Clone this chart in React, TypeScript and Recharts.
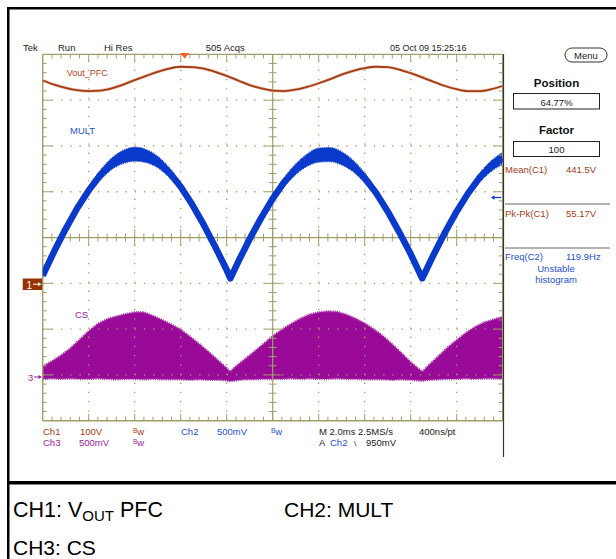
import React from 'react';
import { ComposedChart, Line, Area, XAxis, YAxis, ReferenceLine } from 'recharts';

// ---- data (time in divisions 0..10, amplitude in divisions -4..4) ----
const voutT = [0,0.25,0.5,0.75,1,1.25,1.5,1.75,2,2.25,2.5,2.75,3,3.25,3.5,3.75,4,4.25,4.5,4.75,5,5.25,5.5,5.75,6,6.25,6.5,6.75,7,7.25,7.5,7.75,8,8.25,8.5,8.75,9,9.25,9.5,9.75,10];
const voutV = [3.43,3.34,3.27,3.22,3.20,3.21,3.26,3.34,3.44,3.53,3.62,3.69,3.73,3.72,3.69,3.62,3.53,3.43,3.33,3.26,3.21,3.20,3.23,3.29,3.37,3.46,3.56,3.64,3.70,3.73,3.72,3.67,3.59,3.50,3.40,3.31,3.24,3.20,3.20,3.24,3.31];

const multT = [0,0.25,0.5,0.75,1,1.25,1.5,1.75,2,2.25,2.5,2.75,3,3.25,3.5,3.75,4,4.08,4.25,4.5,4.75,5,5.25,5.5,5.75,6,6.25,6.5,6.75,7,7.25,7.5,7.75,8,8.25,8.5,8.75,9,9.25,9.5,9.75,10];
const multV = [-0.83,-0.30,0.19,0.64,1.03,1.36,1.61,1.76,1.82,1.78,1.65,1.42,1.11,0.72,0.28,-0.20,-0.71,-0.89,-0.53,-0.03,0.43,0.85,1.21,1.49,1.69,1.80,1.81,1.73,1.56,1.30,0.97,0.57,0.12,-0.36,-0.89,-0.37,0.12,0.57,0.97,1.31,1.56,1.73];
// half-thickness of the noisy MULT trace band (divisions)
const multSpread = [0.04,0.04,0.05,0.06,0.08,0.10,0.12,0.14,0.15,0.14,0.12,0.10,0.08,0.06,0.05,0.04,0.04,0.04,0.04,0.04,0.05,0.07,0.09,0.11,0.13,0.15,0.15,0.14,0.12,0.10,0.08,0.06,0.05,0.04,0.04,0.04,0.04,0.05,0.07,0.09,0.11,0.13];

const csT = [0,0.2,0.4,0.6,0.8,1,1.2,1.4,1.6,1.8,2,2.2,2.4,2.6,2.8,3,3.2,3.4,3.6,3.8,4,4.07,4.2,4.4,4.6,4.8,5,5.2,5.4,5.6,5.8,6,6.2,6.4,6.6,6.8,7,7.2,7.4,7.6,7.8,8,8.25,8.4,8.6,8.8,9,9.2,9.4,9.6,9.8,10];
const csTop = [-2.81,-2.70,-2.57,-2.42,-2.23,-2.04,-1.88,-1.78,-1.72,-1.67,-1.63,-1.63,-1.71,-1.80,-1.90,-2.01,-2.16,-2.32,-2.49,-2.67,-2.85,-2.93,-2.81,-2.65,-2.49,-2.32,-2.15,-2.01,-1.88,-1.77,-1.68,-1.63,-1.61,-1.62,-1.68,-1.77,-1.87,-2.00,-2.15,-2.33,-2.52,-2.72,-2.93,-2.78,-2.59,-2.40,-2.24,-2.08,-1.95,-1.85,-1.79,-1.73];
const csBase = [-3.09,-3.08,-3.09,-3.08,-3.09,-3.09,-3.08,-3.09,-3.10,-3.09,-3.09,-3.10,-3.09,-3.10,-3.10,-3.10,-3.11,-3.10,-3.11,-3.11,-3.12,-3.14,-3.12,-3.10,-3.10,-3.09,-3.09,-3.09,-3.08,-3.09,-3.08,-3.09,-3.09,-3.08,-3.09,-3.09,-3.10,-3.10,-3.10,-3.11,-3.10,-3.11,-3.13,-3.11,-3.10,-3.09,-3.09,-3.08,-3.09,-3.08,-3.08,-3.09];

const majorX = [1,2,3,4,6,7,8,9];
const majorY = [-3,-2,-1,1,2,3];
const minorX = Array.from({ length: 49 }, (_, i) => Math.round((i + 1) * 2) / 10);
const minorY = Array.from({ length: 39 }, (_, i) => Math.round((i + 1) * 2 - 40) / 10);

const voutData = voutT.map((t, i) => ({ t, v: voutV[i] }));
const multData = multT.map((t, i) => ({ t, v: multV[i] }));
const multBand = multT.map((t, i) => ({ t, v: [multV[i] - multSpread[i], multV[i] + multSpread[i]] }));
const csData = csT.map((t, i) => ({ t, v: [csBase[i], csTop[i]] }));

const OLIVE = '#a29e68';
const BROWN = '#a33c12';
const BLUE = '#0a3acb';
const PURPLE = '#990a99';
const FONT = '"Liberation Sans", Arial, sans-serif';

const isMajor = (v: number) => Math.abs(v - Math.round(v)) < 1e-6;

function seg(key: string, x1: number, y1: number, x2: number, y2: number) {
  return (
    <ReferenceLine
      key={key}
      segment={[{ x: x1, y: y1 }, { x: x2, y: y2 }]}
      stroke={OLIVE}
      strokeWidth={1}
      ifOverflow="visible"
    />
  );
}

export default function App() {
  const ticks: React.ReactNode[] = [];
  minorX.forEach((x) => {
    const lenB = isMajor(x) ? 0.15 : 0.087;
    const lenC = isMajor(x) ? 0.18 : 0.087;
    ticks.push(seg('tt' + x, x, 4, x, 4 - lenB));
    ticks.push(seg('tb' + x, x, -4, x, -4 + lenB));
    ticks.push(seg('tc' + x, x, -lenC, x, lenC));
  });
  minorY.forEach((y) => {
    const lenB = isMajor(y) ? 0.2 : 0.087;
    const lenC = isMajor(y) ? 0.18 : 0.087;
    ticks.push(seg('tl' + y, 0, y, lenB, y));
    ticks.push(seg('tr' + y, 10, y, 10 - lenB, y));
    ticks.push(seg('tm' + y, 5 - lenC, y, 5 + lenC, y));
  });

  const txt = (x: number, y: number, s: string, color = '#222', size = 9.5, anchor: 'start' | 'middle' | 'end' = 'start', weight = 'normal') => (
    <text x={x} y={y} fill={color} fontSize={size} textAnchor={anchor} fontWeight={weight} fontFamily={FONT}>{s}</text>
  );
  const bw = (x: number, y: number, color: string) => (
    <text x={x} y={y} fill={color} fontSize={9.5} fontFamily={FONT}>
      <tspan fontSize={6.5} dy={-2.5}>B</tspan>
      <tspan dy={2.5}>w</tspan>
    </text>
  );

  return (
    <div style={{ position: 'absolute', left: 0, top: 0, width: 616, height: 559, background: '#fff', overflow: 'hidden' }}>
      <div style={{ position: 'absolute', left: 0, top: 0 }}>
        <ComposedChart width={616} height={559} margin={{ top: 54.4, left: 42.7, right: 113.3, bottom: 138.3 }}>
          <XAxis type="number" dataKey="t" domain={[0, 10]} hide allowDataOverflow />
          <YAxis type="number" domain={[-4, 4]} hide allowDataOverflow />
          {majorX.map((x) => (
            <ReferenceLine key={'gx' + x} x={x} stroke={OLIVE} strokeWidth={1.3} strokeDasharray="1.3 7.9" />
          ))}
          {majorY.map((y) => (
            <ReferenceLine key={'gy' + y} y={y} stroke={OLIVE} strokeWidth={1.3} strokeDasharray="1.3 7.9" />
          ))}
          <ReferenceLine x={0} stroke={OLIVE} strokeWidth={1.4} />
          <ReferenceLine x={10} stroke={OLIVE} strokeWidth={1.4} />
          <ReferenceLine y={4} stroke={OLIVE} strokeWidth={1.4} />
          <ReferenceLine y={-4} stroke={OLIVE} strokeWidth={1.4} />
          <ReferenceLine x={5} stroke={OLIVE} strokeWidth={1.2} />
          <ReferenceLine y={0} stroke={OLIVE} strokeWidth={1.2} />
          {ticks}
          <Area data={csData} dataKey="v" type="linear" fill={PURPLE} fillOpacity={1} stroke="#a52aa5" strokeWidth={2.2} strokeDasharray="1 1.2" isAnimationActive={false} dot={false} activeDot={false} />
          <Line data={voutData} dataKey="v" type="monotone" stroke="#ecc4b4" strokeWidth={3.2} dot={false} activeDot={false} isAnimationActive={false} />
          <Line data={voutData} dataKey="v" type="monotone" stroke={BROWN} strokeWidth={1.8} dot={false} activeDot={false} isAnimationActive={false} />
          <Area data={multBand} dataKey="v" type="monotone" fill={BLUE} fillOpacity={1} stroke={BLUE} strokeWidth={1.5} strokeDasharray="1 1" isAnimationActive={false} dot={false} activeDot={false} />
          <Line data={multData} dataKey="v" type="linear" stroke={BLUE} strokeWidth={6.5} strokeLinejoin="round" dot={false} activeDot={false} isAnimationActive={false} />
        </ComposedChart>
      </div>
      <svg width={616} height={559} style={{ position: 'absolute', left: 0, top: 0, pointerEvents: 'none' }}>
        {/* outer frame */}
        <rect x={7} y={7} width={2.5} height={552} fill="#000" />
        <rect x={7} y={7} width={609} height={2.5} fill="#000" />
        <rect x={7} y={481} width={609} height={3.5} fill="#000" />
        <line x1={503.5} y1={54} x2={503.5} y2={457} stroke="#333" strokeWidth={1.2} />

        {/* top status */}
        {txt(23, 51, 'Tek')}
        {txt(58, 51, 'Run')}
        {txt(104, 51, 'Hi Res')}
        {txt(205.7, 51, '505 Acqs')}
        {txt(390, 51, '05 Oct 09 15:25:16', '#222', 9)}
        <polygon points="180,53 189.5,53 184.7,58.5" fill="#ff5a2a" />

        {/* trace labels */}
        {txt(66.7, 76, 'Vout_PFC', '#b04422', 9)}
        {txt(70, 134, 'MULT', '#1f4fd0', 9.5)}
        {txt(75, 318, 'CS', '#a020a0', 9.5)}

        {/* ground markers */}
        <rect x={22.7} y={278.5} width={19.3} height={11.5} fill="#993300" />
        {txt(26.5, 288.5, '1', '#fff', 10)}
        <line x1={33} y1={284.2} x2={40.5} y2={284.2} stroke="#fff" strokeWidth={1} />
        <polygon points="41.5,284.2 38,282.2 38,286.2" fill="#fff" />
        {txt(28, 380.5, '3', '#a020a0', 9.5)}
        <line x1={34} y1={377} x2={40.5} y2={377} stroke="#a020a0" strokeWidth={1} />
        <polygon points="42,377 38.5,375 38.5,379" fill="#a020a0" />
        <line x1={493} y1={197.5} x2={501} y2={197.5} stroke={BLUE} strokeWidth={1.2} />
        <polygon points="491,197.5 494.5,195.3 494.5,199.7" fill={BLUE} />

        {/* bottom status */}
        {txt(43, 435, 'Ch1', '#a33c12')}
        {txt(80, 435, '100V', '#a33c12')}
        {bw(133, 435, '#a33c12')}
        {txt(181, 435, 'Ch2', '#1f4fd0')}
        {txt(217, 435, '500mV', '#1f4fd0')}
        {bw(271, 435, '#1f4fd0')}
        {txt(319, 435, 'M 2.0ms 2.5MS/s')}
        {txt(419, 435, '400ns/pt')}
        {txt(43, 446, 'Ch3', '#a020a0')}
        {txt(79, 446, '500mV', '#a020a0')}
        {bw(133, 446, '#a020a0')}
        {txt(319, 446, 'A')}
        {txt(330, 446, 'Ch2', '#1f4fd0')}
        {txt(354, 446, '\\', '#222', 8)}
        {txt(366, 446, '950mV')}

        {/* right panel */}
        <rect x={565} y={48} width={42} height={14} rx={7} ry={7} fill="#fff" stroke="#333" strokeWidth={1} />
        {txt(586, 59, 'Menu', '#222', 9.5, 'middle')}
        {txt(556.5, 86.7, 'Position', '#111', 11.5, 'middle', 'bold')}
        <rect x={513.5} y={93.5} width={86} height={15.5} fill="#fff" stroke="#222" strokeWidth={1} />
        {txt(556.5, 105.5, '64.77%', '#222', 9.5, 'middle')}
        {txt(556.5, 134, 'Factor', '#111', 11.5, 'middle', 'bold')}
        <rect x={513.5} y={141.5} width={86} height={15} fill="#fff" stroke="#222" strokeWidth={1} />
        {txt(556.5, 153, '100', '#222', 9.5, 'middle')}
        {txt(505, 173, 'Mean(C1)', '#a04020')}
        {txt(566, 173, '441.5V', '#a04020')}
        <line x1={505} y1={204} x2={610} y2={204} stroke="#666" strokeWidth={1} />
        {txt(505, 216.7, 'Pk-Pk(C1)', '#a04020')}
        {txt(566, 216.7, '55.17V', '#a04020')}
        <line x1={505} y1={248} x2={610} y2={248} stroke="#666" strokeWidth={1} />
        {txt(505, 260, 'Freq(C2)', '#1f4fd0')}
        {txt(566, 260, '119.9Hz', '#1f4fd0')}
        {txt(556, 271.7, 'Unstable', '#1f4fd0', 9.5, 'middle')}
        {txt(556, 283, 'histogram', '#1f4fd0', 9.5, 'middle')}

        {/* caption */}
        <text x={13} y={517} fill="#000" fontSize={21.5} fontFamily={FONT}>
          CH1: V<tspan fontSize={15} dy={4}>OUT</tspan><tspan dy={-4}> PFC</tspan>
        </text>
        {txt(284, 517, 'CH2: MULT', '#000', 21)}
        {txt(13, 555, 'CH3: CS', '#000', 21)}
      </svg>
    </div>
  );
}
